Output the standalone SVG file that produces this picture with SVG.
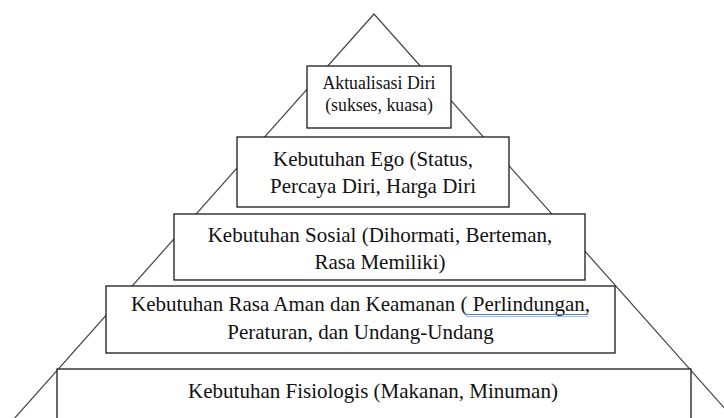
<svg xmlns="http://www.w3.org/2000/svg" width="724" height="418" viewBox="0 0 724 418">
<style>
.box{fill:#fff;stroke:#1a1a1a;stroke-width:1.3}
.t{font-family:'Liberation Serif',Tinos,'Times New Roman',Times,'DejaVu Serif',serif;font-size:21px;fill:#111;text-anchor:middle}
.ts{font-size:17.8px}
.edge{fill:none;stroke:#444;stroke-width:1.2}
.ul{stroke:#4a7fd6;stroke-width:1}
</style>
<rect width="724" height="418" fill="#fff"/>
<g id="pyramid-outline">
<polyline class="edge" points="13,420 374,14 735,420"/>
</g>
<g id="node-aktualisasi">
<rect class="box" x="307" y="66" width="144" height="62"/>
<text class="t ts" x="379" y="89" font-family="Liberation Serif, serif">Aktualisasi Diri</text>
<text class="t ts" x="379" y="111">(sukses, kuasa)</text>
</g>
<g id="node-ego">
<rect class="box" x="237" y="137" width="272" height="70"/>
<text class="t" x="373" y="166">Kebutuhan Ego (Status,</text>
<text class="t" x="373" y="193">Percaya Diri, Harga Diri</text>
</g>
<g id="node-sosial">
<rect class="box" x="174" y="214" width="411" height="66"/>
<text class="t" x="380" y="242">Kebutuhan Sosial (Dihormati, Berteman,</text>
<text class="t" x="380" y="269">Rasa Memiliki)</text>
</g>
<g id="node-aman">
<rect class="box" x="106" y="286" width="509" height="67"/>
<text class="t" x="360.5" y="311">Kebutuhan Rasa Aman dan Keamanan ( Perlindungan,</text>
<line class="ul" x1="466" y1="314.5" x2="588" y2="314.5"/>
<line class="ul" x1="466" y1="316.5" x2="588" y2="316.5" stroke-opacity="0.5"/>
<text class="t" x="360.5" y="339">Peraturan, dan Undang-Undang</text>
</g>
<g id="node-fisiologis">
<rect class="box" x="57" y="369" width="634" height="70"/>
<text class="t" x="373" y="398">Kebutuhan Fisiologis (Makanan, Minuman)</text>
</g>
<g id="connectors"></g>
</svg>
